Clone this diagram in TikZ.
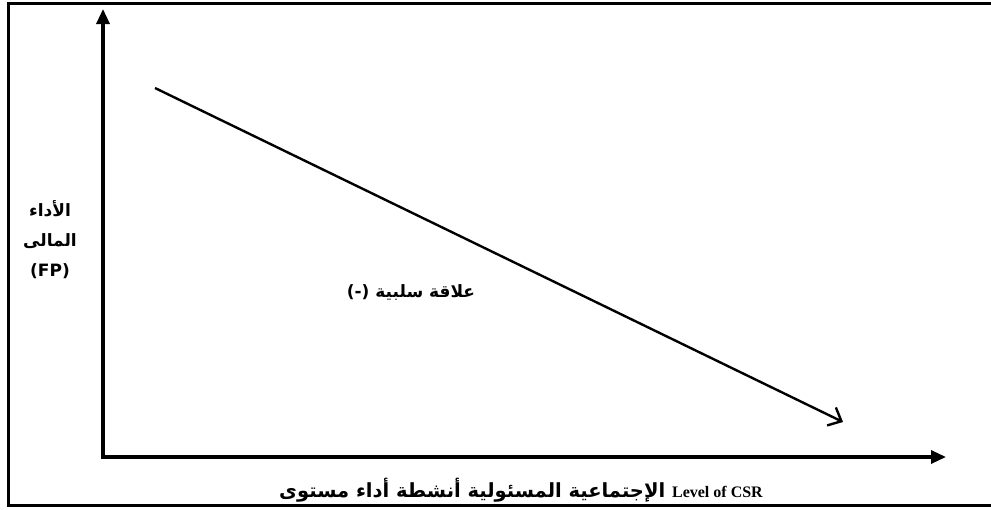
\documentclass[tikz,border=0pt]{standalone}
\usepackage{fontspec}
\usetikzlibrary{arrows.meta}
\TeXXeTstate=1
\newfontfamily\arabicfont[Script=Arabic]{DejaVu Sans}
\newfontfamily\latinserif{Liberation Serif}
\newfontfamily\latinsans{DejaVu Sans}
\newcommand{\rw}[1]{\beginR#1\endR}
\tikzset{
  axisline/.style={line width=3.2pt, -{Triangle[length=15pt,width=13pt]}},
  trendline/.style={line width=2.4pt, -{Straight Barb[length=11pt,width=20pt,line width=2.4pt]}},
  lbl/.style={inner sep=0pt},
}
\begin{document}
\begin{tikzpicture}[x=1pt,y=-1pt]
\useasboundingbox (0,0) rectangle (991,509);
\draw[line width=2.2pt] (995,3.5) -- (8.5,3.5) -- (8.5,505.5) -- (995,505.5);
\coordinate (O) at (103,457);
\coordinate (ytip) at (103,9);
\coordinate (xtip) at (946,457);
\coordinate (ls) at (155,88);
\coordinate (le) at (843,422);
\draw[axisline] (O) -- (ytip);
\draw[axisline] ([xshift=-1.6pt]O) -- (xtip);
\draw[trendline] (ls) -- (le);
\node[lbl, align=center, font=\bfseries\arabicfont\fontsize{17}{30}\selectfont] (ylab) at (50,240)
  {\rw{الأداء}\\ \rw{المالى}\\ {\latinsans (FP)}};
\node[lbl, font=\bfseries\arabicfont\fontsize{17}{18}\selectfont] (rel) at (411,293)
  {\rw{علاقة سلبية (-)}};
\node[lbl, font=\bfseries\arabicfont\fontsize{19.5}{20}\selectfont] (xlab) at (521,490)
  {\rw{مستوى} \rw{أداء} \rw{أنشطة} \rw{المسئولية} \rw{الإجتماعية} {\latinserif\fontsize{16}{18}\selectfont Level of CSR}};
\end{tikzpicture}
\end{document}
